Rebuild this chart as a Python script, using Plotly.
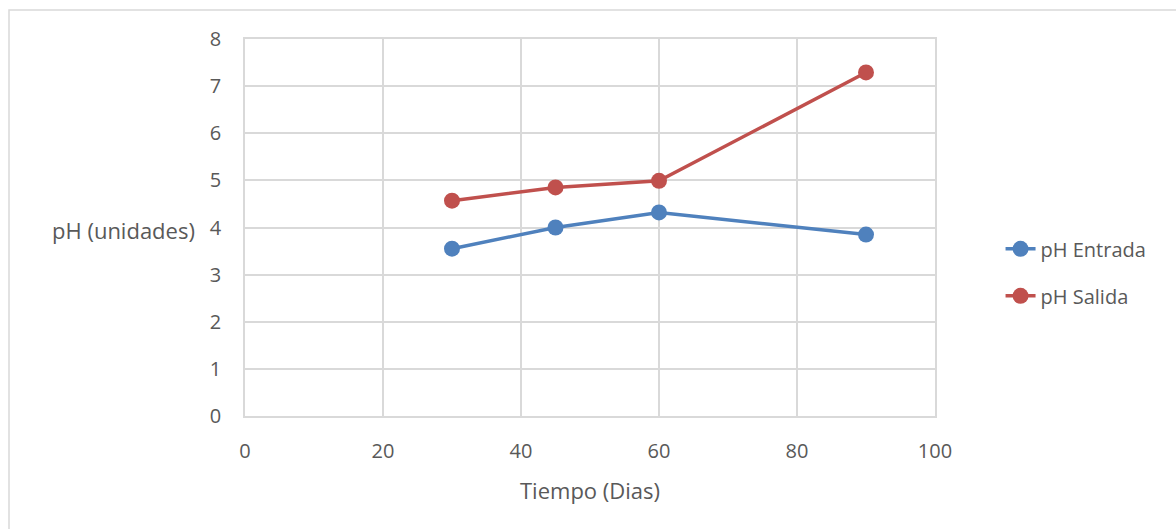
import plotly.graph_objects as go

dias = [30, 45, 60, 90]
ph_entrada = [3.55, 4.0, 4.32, 3.85]
ph_salida = [4.57, 4.85, 4.99, 7.29]

fig = go.Figure()
fig.add_trace(go.Scatter(x=dias, y=ph_entrada, mode="lines+markers", name="pH Entrada",
                         legendgroup="a",
                         line=dict(color="#4F81BD", width=3.5),
                         marker=dict(color="#4F81BD", size=16)))
fig.add_trace(go.Scatter(x=dias, y=ph_salida, mode="lines+markers", name="pH Salida",
                         legendgroup="b",
                         line=dict(color="#C0504D", width=3.5),
                         marker=dict(color="#C0504D", size=16)))

font_c = "#595959"
fig.update_layout(
    width=1176, height=529,
    margin=dict(l=245, r=241, t=39, b=113),
    paper_bgcolor="white", plot_bgcolor="white",
    font=dict(family="Open Sans, Liberation Sans, sans-serif", size=20, color=font_c),
    showlegend=True,
    legend=dict(x=1.095, y=0.381, yanchor="middle", xanchor="left",
                font=dict(size=20, color=font_c), traceorder="grouped",
                tracegroupgap=18, bgcolor="rgba(0,0,0,0)"),
    xaxis=dict(range=[0, 100], tickvals=[0, 20, 40, 60, 80, 100], showgrid=True,
               gridcolor="#d9d9d9", gridwidth=1.5, showline=True, linecolor="#d9d9d9",
               linewidth=1.5, mirror=True, zeroline=False, ticks="outside", ticklen=16,
               tickcolor="rgba(0,0,0,0)", tickfont=dict(size=20, color=font_c)),
    yaxis=dict(range=[0, 8], tickvals=list(range(9)), showgrid=True,
               gridcolor="#d9d9d9", gridwidth=1.5, showline=True, linecolor="#d9d9d9",
               linewidth=1.5, mirror=True, zeroline=False, ticks="outside", ticklen=18,
               tickcolor="rgba(0,0,0,0)", tickfont=dict(size=20, color=font_c)),
    annotations=[
        dict(text="pH (unidades)", x=(197 - 245) / 690, y=(416 - 230) / 377,
             xref="paper", yref="paper",
             xanchor="right", yanchor="middle", showarrow=False,
             font=dict(size=22, color=font_c)),
        dict(text="Tiempo (Dias)", x=0.5, y=(416 - 490) / 377, xref="paper", yref="paper",
             xanchor="center", yanchor="middle", showarrow=False,
             font=dict(size=22, color=font_c)),
    ],
    shapes=[dict(type="rect", xref="paper", yref="paper",
                 x0=(9 - 245) / 690, x1=(1185 - 245) / 690,
                 y0=(416 - 540) / 377, y1=(416 - 10) / 377,
                 line=dict(color="#d9d9d9", width=1.5), layer="below")],
)

fig.write_html("out.html")
